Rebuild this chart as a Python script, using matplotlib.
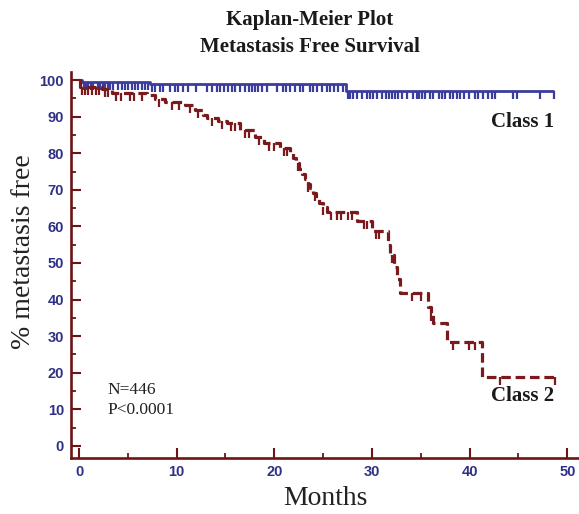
import numpy as np
import matplotlib
matplotlib.use('Agg')
import matplotlib.pyplot as plt
from matplotlib.path import Path

# ---- data ----
c1_times = [0, 0.3, 7.3, 27.3]
c1_surv = [100, 99.6, 98.9, 97.1]
c1_end = 48.6
c1_censor = [0.5, 0.7, 0.9, 1.2, 1.4, 1.9, 2.2, 2.5, 2.7, 3.0, 3.2, 3.5, 4.0, 4.4, 4.7,
             5.0, 5.4, 5.7, 6.0, 6.5, 6.8, 7.1, 7.5, 7.8, 8.3, 8.6, 9.3, 9.8, 10.1, 10.7,
             11.2, 12.0, 13.1, 13.6, 14.1, 14.4, 14.8, 15.3, 15.7, 16.0, 16.5, 17.0, 17.4,
             17.7, 18.0, 18.3, 18.7, 19.3, 20.3, 20.9, 21.2, 21.6, 22.1, 22.6, 22.9, 23.7,
             24.0, 24.4, 24.9, 25.4, 25.7, 26.1, 26.5, 27.0, 27.5, 27.8, 28.1, 28.5, 29.0,
             29.5, 29.8, 30.1, 30.5, 31.0, 31.4, 31.7, 32.1, 32.4, 32.7, 33.1, 33.6, 34.2,
             34.6, 34.8, 35.1, 35.4, 35.9, 36.3, 36.9, 37.2, 37.5, 38.0, 38.3, 38.7, 39.0,
             39.4, 39.9, 40.5, 40.9, 41.4, 41.9, 42.3, 42.6, 44.4, 44.9, 47.2, 48.6]

c2_times = [0, 0.1, 2.4, 3.4, 7.0, 7.8, 8.8, 10.9, 11.9, 12.7, 13.1, 14.2, 15.2, 16.5,
            18.0, 18.9, 20.6, 21.6, 21.9, 22.2, 22.5, 22.8, 23.1, 23.4, 23.7, 24.0, 24.3,
            24.6, 25.0, 25.4, 28.5, 30.0, 31.6, 31.8, 32.3, 32.6, 32.9, 35.7, 36.0, 36.2,
            37.7, 41.3]
c2_surv = [100, 98.2, 97.5, 96.4, 95.9, 94.8, 94.1, 93.2, 91.8, 90.4, 89.6, 88.9, 88.2,
           86.3, 84.5, 82.8, 81.4, 80.2, 78.8, 77.3, 75.8, 74.4, 73.0, 71.7, 70.4, 69.1,
           67.8, 66.5, 65.2, 63.9, 61.5, 58.7, 55.0, 52.2, 49.0, 45.5, 41.8, 38.0, 36.3,
           33.6, 28.4, 18.9]
c2_end = 48.7
c2_censor = [0.3, 0.6, 0.9, 1.3, 1.7, 2.0, 2.7, 3.0, 3.8, 4.3, 5.2, 5.6, 6.4, 8.2, 9.5,
             10.2, 11.4, 12.2, 13.6, 14.6, 15.6, 16.0, 17.0, 17.4, 18.4, 19.5, 20.0, 21.0,
             21.3, 22.4, 23.5, 24.2, 25.0, 25.8, 26.4, 26.8, 27.5, 28.0, 29.2, 29.5, 30.4,
             30.7, 32.0, 34.1, 35.0, 36.0, 38.3, 39.9, 40.6, 43.1, 48.7]

x_ticks = [0, 10, 20, 30, 40, 50]
y_ticks = [0, 10, 20, 30, 40, 50, 60, 70, 80, 90, 100]

# ---- style ----
RED = '#7a1a1c'
BLUE = '#3a3d9c'
NAVY = '#2e3185'
SPINE = '#6e1416'

plt.rcParams['font.family'] = ['Liberation Sans', 'DejaVu Sans']
fig = plt.figure(figsize=(5.79, 5.14), dpi=100)
ax = fig.add_axes([71/579, (514-458)/514, (579-71)/579, (458-72)/514])

tick_marker = Path([(0, 0), (0, -1)], [Path.MOVETO, Path.LINETO])


def draw_curve(times, surv, end, censor, color, ls, lw):
    t = np.array(times + [end])
    s = np.array(surv + [surv[-1]])
    ax.step(t, s, where='post', color=color, lw=lw, ls=ls, solid_capstyle='butt')
    cens = np.array(censor)
    idx = np.searchsorted(np.array(times), cens, side='right') - 1
    cy = np.array(surv)[idx]
    ax.plot(cens, cy, ls='none', marker=tick_marker, markersize=11,
            markeredgewidth=1.6, markeredgecolor=color, markerfacecolor='none')


draw_curve(c1_times, c1_surv, c1_end, c1_censor, BLUE, '-', 2.0)
draw_curve(c2_times, c2_surv, c2_end, c2_censor, RED, (0, (3.0, 1.5)), 2.3)

ax.set_xlim(-0.82, 51.2)
ax.set_ylim(-3.3, 102.2)
ax.set_xticks(x_ticks)
ax.set_yticks(y_ticks)
ax.set_xticks(np.arange(5, 50, 10), minor=True)
ax.set_yticks(np.arange(5, 100, 10), minor=True)

for side in ['top', 'right']:
    ax.spines[side].set_visible(False)
for side in ['left', 'bottom']:
    ax.spines[side].set_color(SPINE)
    ax.spines[side].set_linewidth(1.9)

ax.tick_params(which='major', direction='in', length=7.5, width=1.5, color=SPINE,
               labelcolor=NAVY, labelsize=10.5, pad=5)
ax.tick_params(which='minor', direction='in', length=3.5, width=1.3, color=SPINE)
for lab in ax.get_xticklabels() + ax.get_yticklabels():
    lab.set_fontweight('bold')

serif = ['Liberation Serif', 'DejaVu Serif']
ax.set_ylabel('% metastasis free', family=serif, fontsize=20, color='#222222')
ax.yaxis.set_label_coords(-0.068, 0.535)
ax.set_xlabel('Months', family=serif, fontsize=20, color='#222222', labelpad=5)

fig.text(310/579, 1 - 20/514, 'Kaplan-Meier Plot', family=serif, fontsize=15,
         fontweight='bold', ha='center', va='center', color='#1a1a1a')
fig.text(310/579, 1 - 47/514, 'Metastasis Free Survival', family=serif, fontsize=15,
         fontweight='bold', ha='center', va='center', color='#1a1a1a')

ax.text(42.2, 88.5, 'Class 1', family=serif, fontsize=15, fontweight='bold',
        ha='left', va='center', color='#1a1a1a')
ax.text(42.2, 13.7, 'Class 2', family=serif, fontsize=15, fontweight='bold',
        ha='left', va='center', color='#1a1a1a')
ax.text(2.9, 15.3, 'N=446', family=serif, fontsize=12.5, ha='left', va='center',
        color='#222222')
ax.text(2.9, 9.9, 'P<0.0001', family=serif, fontsize=12.5, ha='left', va='center',
        color='#222222')

fig.savefig('out.png', dpi=100)
